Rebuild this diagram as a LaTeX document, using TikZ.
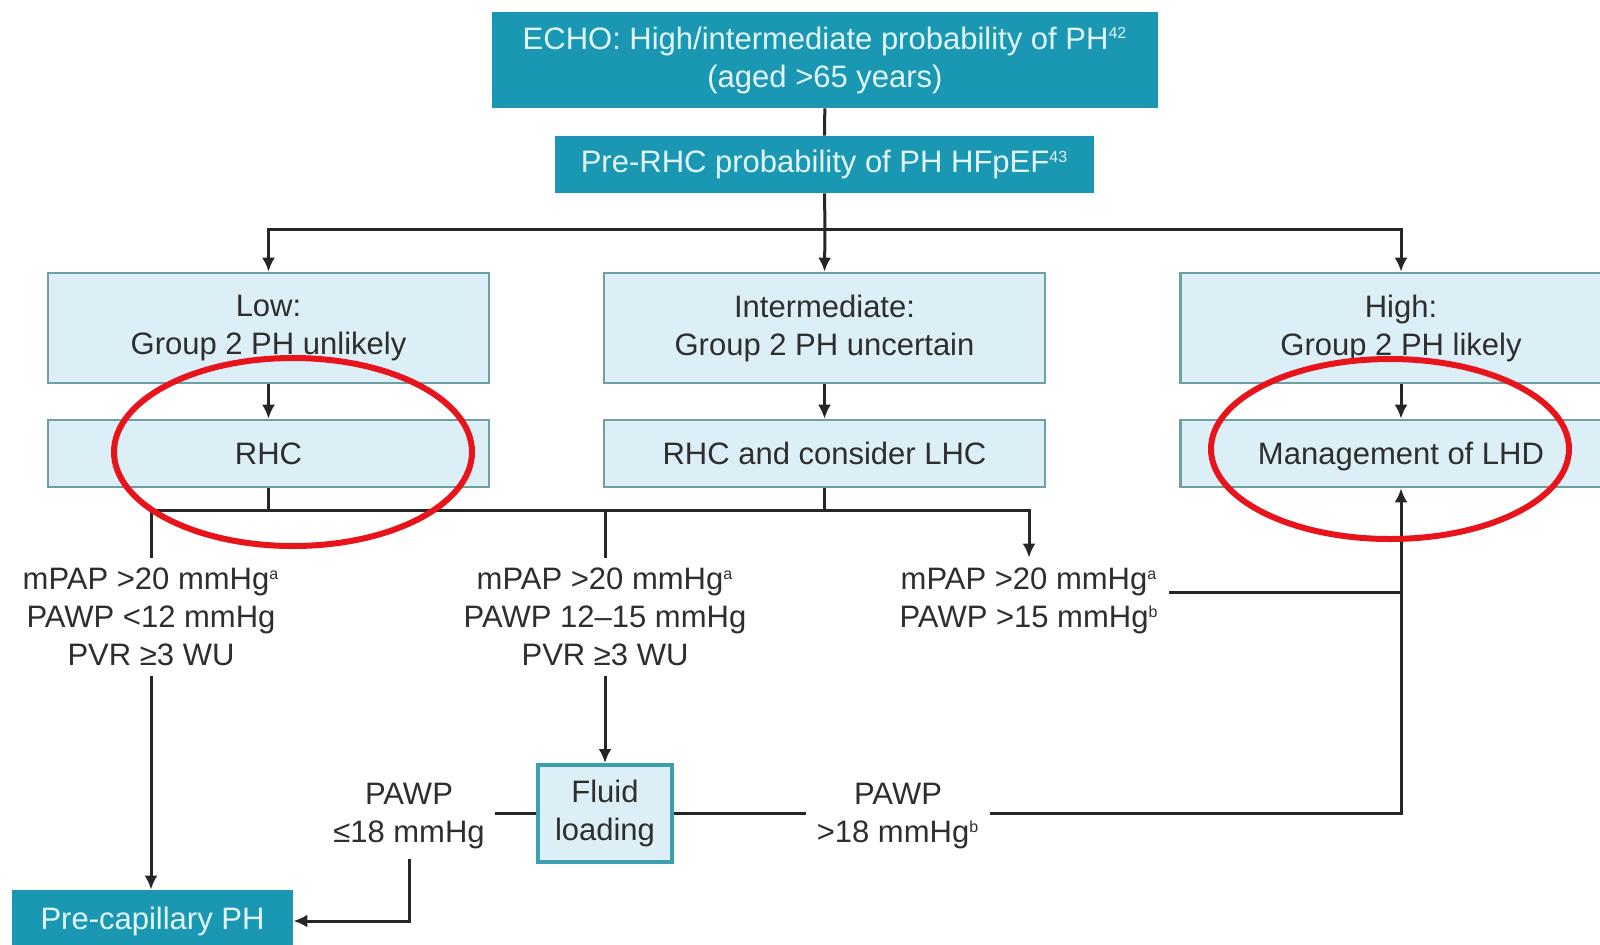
\documentclass[tikz,border=0pt]{standalone}
\usepackage{fontspec}
\setmainfont{Liberation Sans}
\usetikzlibrary{arrows.meta}
\definecolor{tealdark}{HTML}{1A98B3}
\definecolor{boxtext}{HTML}{E2F5F9}
\definecolor{lightfill}{HTML}{DCEFF6}
\definecolor{lightborder}{HTML}{6E9FA4}
\definecolor{fluidborder}{HTML}{3C9FB0}
\definecolor{txt}{HTML}{2E2E2E}
\definecolor{markred}{HTML}{E8141B}
\newcommand{\sups}[1]{\textsuperscript{\fontsize{8}{8}\selectfont #1}}
\begin{document}
\begin{tikzpicture}[x=0.5pt,y=-0.5pt,
  every node/.style={font=\fontsize{15.5}{19}\selectfont},
  dark/.style={fill=tealdark,text=boxtext,inner sep=0pt,align=center},
  light/.style={fill=lightfill,draw=lightborder,line width=1.3pt,text=txt,inner sep=0pt,align=center},
  rowtwo/.style={light,minimum width=220.5pt,minimum height=33.5pt,text height=11.2pt,text depth=0pt},
  lab/.style={align=center,inner sep=5pt,text=txt},
  conn/.style={line width=1.5pt,draw=black!85},
  arr/.style={conn,-{Latex[length=7pt,width=6.5pt]}}]
\useasboundingbox (0,0) rectangle (1600,944);
\clip (0,0) rectangle (1600,944);
\fill[white] (0,0) rectangle (1600,944);

% boxes
\node[dark,minimum width=333pt,minimum height=48pt] (echo) at (825,60)
  {ECHO: High/intermediate probability of PH\sups{42}\\(aged >65 years)};
\node[dark,minimum width=269.5pt,minimum height=28.5pt] (prerhc) at (824.5,164.5)
  {Pre-RHC probability of PH HFpEF\sups{43}};

\node[light,minimum width=220.5pt,minimum height=55pt] (low) at (268.5,328) {Low:\\Group 2 PH unlikely};
\node[light,minimum width=220.5pt,minimum height=55pt] (mid) at (824.5,328) {Intermediate:\\Group 2 PH uncertain};
\node[light,minimum width=220.5pt,minimum height=55pt] (high) at (1401,328) {High:\\Group 2 PH likely};

\node[rowtwo] (rhc) at (268.5,453.5) {RHC};
\node[rowtwo] (rhclhc) at (824.5,453.5) {RHC and consider LHC};
\node[rowtwo] (lhd) at (1401,453.5) {Management of LHD};

% labels
\node[lab] (lab1) at (151,617) {mPAP >20 mmHg\sups{a}\\PAWP <12 mmHg\\PVR ≥3 WU};
\node[lab] (lab2) at (605,617) {mPAP >20 mmHg\sups{a}\\PAWP 12–15 mmHg\\PVR ≥3 WU};
\node[lab] (lab3) at (1029,601) {mPAP >20 mmHg\sups{a}\\PAWP >15 mmHg\sups{b}};
\node[lab] (lab5) at (409,816) {PAWP\\≤18 mmHg};
\node[lab] (lab4) at (898,816) {PAWP\\>18 mmHg\sups{b}};

\node[light,draw=fluidborder,line width=2pt,minimum width=67pt,minimum height=48.5pt] (fluid) at (605,813.5) {Fluid\\loading};
\node[dark,minimum width=140.5pt,minimum height=31pt] (precap) at (152.5,921) {Pre-capillary PH};

% connectors
\coordinate (s1) at (825,229);
\coordinate (s2) at (268.5,510);
\coordinate (s3) at (824.5,510);
\draw[conn] (echo) -- (prerhc);
\draw[conn] (prerhc.south) -- (s1);
\draw[arr] (s1) -| (low.north);
\draw[arr] (s1) -| (high.north);
\draw[arr] (s1) -- (mid.north);
\draw[arr] (low) -- (rhc);
\draw[arr] (mid) -- (rhclhc);
\draw[arr] (high) -- (lhd);
\draw[conn] (rhc.south) -- (s2);
\draw[conn] (rhclhc.south) -- (s3);
\draw[conn] (lab1.north) |- (s2) -- (s3);
\draw[conn] (lab2.north) -- (lab2.north |- s3);
\draw[arr] (s3) -| (lab3.north);
\coordinate (l3e) at ([yshift=4.5pt]lab3.east);
\draw[conn] (l3e) -- (l3e -| lhd.south);
\draw[arr] (lab4.east |- fluid.east) -| (lhd.south);
\draw[arr] (lab1.south) -- (lab1.south |- precap.north);
\draw[arr] (lab2.south) -- (fluid.north);
\draw[conn] (fluid.west) -- (fluid.west -| lab5.east);
\draw[conn] (fluid.east) -- (fluid.east -| lab4.west);
\draw[arr] (lab5.south) |- (precap.east);

% red annotation ellipses
\draw[markred,line width=3pt] (293,452) ellipse [x radius=89.5pt, y radius=47pt];
\draw[markred,line width=3pt] (1390,449) ellipse [x radius=89.5pt, y radius=45pt];
\end{tikzpicture}
\end{document}
